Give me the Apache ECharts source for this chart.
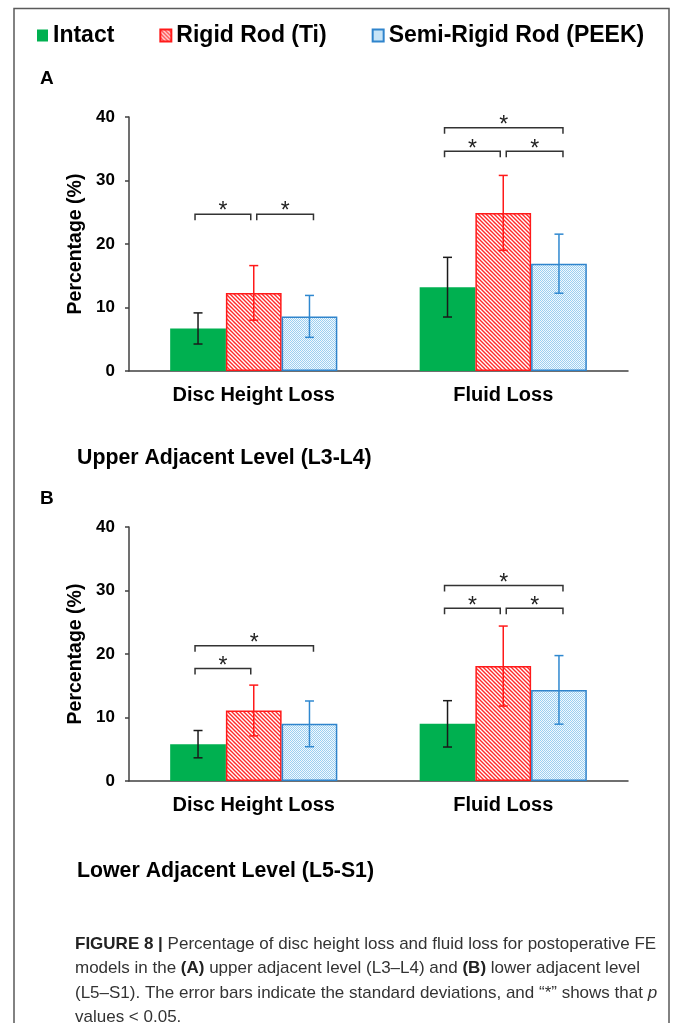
<!DOCTYPE html>
<html><head><meta charset="utf-8">
<script src="https://cdn.jsdelivr.net/npm/echarts@6/dist/echarts.min.js"></script>
<style>html,body{margin:0;padding:0;background:#fff}#c{width:674px;height:1023px}</style>
</head><body><div id="c"></div>
<script>
// ---------- data ----------
const categories = ['Disc Height Loss', 'Fluid Loss'];
const groups = ['Intact', 'Rigid Rod (Ti)', 'Semi-Rigid Rod (PEEK)'];
const yMin = 0, yMax = 40, yStep = 10;
// Panel A: upper adjacent level (L3-L4)
const upperIntact = [6.7, 13.2];
const upperIntactSD = [2.45, 4.7];
const upperRigid = [12.3, 24.9];
const upperRigidSD = [4.3, 5.9];
const upperSemi = [8.6, 16.9];
const upperSemiSD = [3.3, 4.65];
// Panel B: lower adjacent level (L5-S1)
const lowerIntact = [5.8, 9.0];
const lowerIntactSD = [2.15, 3.65];
const lowerRigid = [11.1, 18.1];
const lowerRigidSD = [4.0, 6.3];
const lowerSemi = [9.0, 14.35];
const lowerSemiSD = [3.6, 5.4];
// significance brackets: [categoryIndex, fromGroup, toGroup, level(%)]
const upperSig = [[0,0,1,24.7],[0,1,2,24.7],[1,0,1,34.6],[1,1,2,34.6],[1,0,2,38.3]];
const lowerSig = [[0,0,1,17.7],[0,0,2,21.3],[1,0,1,27.2],[1,1,2,27.2],[1,0,2,30.8]];
const panelLetters = ['A', 'B'];
const panelTitles = ['Upper Adjacent Level (L3-L4)', 'Lower Adjacent Level (L5-S1)'];
const yName = 'Percentage (%)';
const captionLines = [
  '{b|FIGURE 8 |} Percentage of disc height loss and fluid loss for postoperative FE',
  'models in the {b|(A)} upper adjacent level (L3\u2013L4) and {b|(B)} lower adjacent level',
  '(L5\u2013S1). The error bars indicate the standard deviations, and \u201c*\u201d shows that {i|p}',
  'values < 0.05.'
];

// ---------- styles ----------
const GAP = 0.33;
const GREEN = '#00b050', RED = '#ff1a1a', BLUE = '#2f84cc';
const ERR_COLORS = ['#1a1a1a', '#ff1a1a', '#2f88d0'];
const TXT_FONT = 'Liberation Sans, Arial, sans-serif';

function hatchPattern() {
  const c = document.createElement('canvas'); c.width = 4; c.height = 4;
  const g = c.getContext('2d');
  g.fillStyle = '#ffffff'; g.fillRect(0, 0, 4, 4);
  g.strokeStyle = '#ff2a2a'; g.lineWidth = 1.4;
  g.beginPath();
  g.moveTo(-1, -1); g.lineTo(5, 5);
  g.moveTo(-1, 3); g.lineTo(1, 5);
  g.moveTo(3, -1); g.lineTo(5, 1);
  g.stroke();
  return c;
}
function dotPattern() {
  const c = document.createElement('canvas'); c.width = 2; c.height = 2;
  const g = c.getContext('2d');
  g.fillStyle = '#f2f9fe'; g.fillRect(0, 0, 2, 2);
  g.fillStyle = '#9ccff0'; g.fillRect(0, 0, 1, 1); g.fillRect(1, 1, 1, 1);
  return c;
}
const groupStyles = [
  { color: GREEN },
  { color: { image: hatchPattern(), repeat: 'repeat' }, borderColor: RED, borderWidth: 1.5 },
  { color: { image: dotPattern(), repeat: 'repeat' }, borderColor: BLUE, borderWidth: 1.5 }
];

const panels = [
  { means: [upperIntact, upperRigid, upperSemi], sds: [upperIntactSD, upperRigidSD, upperSemiSD], sig: upperSig, top: 117 },
  { means: [lowerIntact, lowerRigid, lowerSemi], sds: [lowerIntactSD, lowerRigidSD, lowerSemiSD], sig: lowerSig, top: 527 }
];

function errItem(gi) {
  return function (params, api) {
    const cat = api.value(0), m = api.value(1), sd = api.value(2);
    const band = api.size([1, 0])[0];
    const bw = band * (1 - GAP) / 3;
    const x = api.coord([cat, m])[0] + (gi - 1) * bw;
    const yt = api.coord([cat, m + sd])[1], yb = api.coord([cat, m - sd])[1];
    const cap = 4.5;
    const st = { stroke: ERR_COLORS[gi], lineWidth: 1.5 };
    return { type: 'group', children: [
      { type: 'line', shape: { x1: x, y1: yt, x2: x, y2: yb }, style: st },
      { type: 'line', shape: { x1: x - cap, y1: yt, x2: x + cap, y2: yt }, style: st },
      { type: 'line', shape: { x1: x - cap, y1: yb, x2: x + cap, y2: yb }, style: st }
    ] };
  };
}
function sigItem(params, api) {
  const cat = api.value(0), g1 = api.value(1), g2 = api.value(2), lvl = api.value(3);
  const band = api.size([1, 0])[0];
  const bw = band * (1 - GAP) / 3;
  const p = api.coord([cat, lvl]);
  const x1 = p[0] + (g1 - 1) * bw + (g1 === 1 ? 3 : -3);
  const x2 = p[0] + (g2 - 1) * bw + (g2 === 1 ? -3 : 4);
  const y = p[1];
  const st = { stroke: '#333', lineWidth: 1.5, fill: null };
  return { type: 'group', children: [
    { type: 'polyline', shape: { points: [[x1, y + 6], [x1, y], [x2, y], [x2, y + 6]] }, style: st },
    { type: 'text', x: (x1 + x2) / 2, y: y - 2, style: { text: '*', fontSize: 23, fontFamily: TXT_FONT, fill: '#222', align: 'center', verticalAlign: 'middle' } }
  ] };
}

const grids = [], xAxes = [], yAxes = [], series = [], graphics = [];
panels.forEach((pn, pi) => {
  grids.push({ left: 129, width: 499, top: pn.top, height: 254 });
  xAxes.push({
    type: 'category', gridIndex: pi, data: categories,
    axisLine: { lineStyle: { color: '#404040', width: 1.5 } },
    axisTick: { length: 5, lineStyle: { color: '#404040', width: 1.5 } },
    axisLabel: { fontFamily: TXT_FONT, fontWeight: 'bold', fontSize: 20, color: '#000', margin: 14 }
  });
  yAxes.push({
    type: 'value', gridIndex: pi, min: yMin, max: yMax, interval: yStep,
    name: yName, nameLocation: 'middle', nameGap: 34,
    nameTextStyle: { fontFamily: TXT_FONT, fontWeight: 'bold', fontSize: 19.5, color: '#000' },
    axisLine: { show: true, lineStyle: { color: '#404040', width: 1.5 } },
    axisTick: { show: true, length: 4, lineStyle: { color: '#404040', width: 1.5 } },
    splitLine: { show: false },
    axisLabel: { fontFamily: TXT_FONT, fontWeight: 'bold', fontSize: 17, color: '#000', margin: 14 }
  });
  groups.forEach((gname, gi) => {
    series.push({
      type: 'bar', name: gname, xAxisIndex: pi, yAxisIndex: pi,
      data: pn.means[gi], barGap: '0%', barCategoryGap: (GAP * 100) + '%',
      itemStyle: groupStyles[gi], emphasis: { disabled: true }, z: 2
    });
  });
  groups.forEach((gname, gi) => {
    series.push({
      type: 'custom', name: 'err' + pi + gi, xAxisIndex: pi, yAxisIndex: pi,
      data: categories.map((c, ci) => [ci, pn.means[gi][ci], pn.sds[gi][ci]]),
      encode: { x: 0, y: 1 }, renderItem: errItem(gi), z: 4, silent: true
    });
  });
  series.push({
    type: 'custom', name: 'sig' + pi, xAxisIndex: pi, yAxisIndex: pi,
    data: pn.sig, encode: { x: 0, y: 3 }, renderItem: sigItem, z: 4, silent: true, clip: false
  });
});

graphics.push({ type: 'rect', shape: { x: 14, y: 8.5, width: 655, height: 1040 }, style: { fill: null, stroke: '#5a5a5a', lineWidth: 1.5 }, silent: true });
const letterY = [79, 499], titleY = [458, 871];
panelLetters.forEach((l, i) => {
  graphics.push({ type: 'text', x: 40, y: letterY[i], style: { text: l, fontFamily: TXT_FONT, fontWeight: 'bold', fontSize: 19, fill: '#000', verticalAlign: 'middle' } });
  graphics.push({ type: 'text', x: 77, y: titleY[i], style: { text: panelTitles[i], fontFamily: TXT_FONT, fontWeight: 'bold', fontSize: 21.3, fill: '#000', verticalAlign: 'middle' } });
});
const capFont = { fontFamily: TXT_FONT, fontSize: 17, fill: '#333' };
captionLines.forEach((t, i) => {
  graphics.push({ type: 'text', x: 75, y: 944 + i * 24.5, style: Object.assign({
    text: t, verticalAlign: 'middle',
    rich: {
      b: Object.assign({}, capFont, { fontWeight: 'bold', fill: '#222' }),
      i: Object.assign({}, capFont, { fontStyle: 'italic' })
    }
  }, capFont) });
});

const chart = echarts.init(document.getElementById('c'), null, { renderer: 'canvas' });
chart.setOption({
  animation: false,
  backgroundColor: '#fff',
  legend: {
    data: groups, left: 37, top: 24, padding: 0, icon: 'rect',
    itemWidth: 11, itemHeight: 12, itemGap: 45,
    textStyle: { fontFamily: TXT_FONT, fontWeight: 'bold', fontSize: 23, color: '#000' }
  },
  grid: grids, xAxis: xAxes, yAxis: yAxes, series: series, graphic: graphics
});
</script></body></html>
